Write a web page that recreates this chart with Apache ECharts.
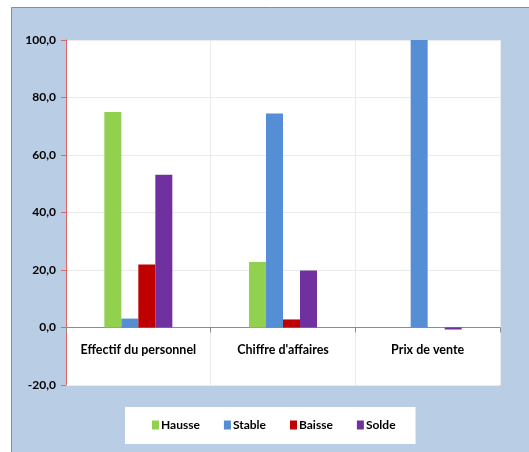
<!DOCTYPE html>
<html><head><meta charset="utf-8">
<script src="https://cdn.jsdelivr.net/npm/echarts@6/dist/echarts.min.js"></script>
<style>html,body{margin:0;padding:0;background:#fff}#c{width:529px;height:452px}</style>
</head><body><div id="c"></div>
<script>
const categories = ["Effectif du personnel", "Chiffre d'affaires", "Prix de vente"];
const seriesNames = ["Hausse", "Stable", "Baisse", "Solde"];
const hausse = [75.0, 22.8, 0.0];
const stable = [3.1, 74.4, 100.0];
const baisse = [21.9, 2.8, 0.0];
const solde = [53.1, 19.8, -0.7];
const colors = ["#92d050", "#558ed5", "#c00000", "#7030a0"];
const values = [hausse, stable, baisse, solde];
const FONT = "Lato, 'Liberation Sans', Arial, sans-serif";

const chart = echarts.init(document.getElementById('c'), null, {renderer: 'canvas'});
chart.setOption({
  backgroundColor: '#ffffff',
  animation: false,
  graphic: [{
    type: 'rect', z: -10, silent: true,
    shape: {x: 11.5, y: 7.5, width: 530, height: 460},
    style: {fill: '#b9cde5', stroke: '#8c8c8c', lineWidth: 1}
  }],
  grid: {left: 66, top: 40, right: 29, bottom: 67, show: true, backgroundColor: '#ffffff', borderWidth: 0},
  legend: {
    data: seriesNames,
    left: 125, top: 407,
    backgroundColor: '#ffffff',
    padding: [12, 20, 13, 27],
    itemGap: 24,
    itemWidth: 7, itemHeight: 9,
    icon: 'rect',
    textStyle: {fontFamily: FONT, fontWeight: 'bold', fontSize: 12, color: '#000', padding: [0, 0, 0, -3]}
  },
  xAxis: {
    type: 'category', data: categories,
    axisLine: {onZero: true, lineStyle: {color: '#8c8c8c'}},
    axisTick: {show: true, interval: 0, length: 5, lineStyle: {color: '#8c8c8c'}},
    splitLine: {show: true, interval: 0, lineStyle: {color: '#ebebeb'}},
    axisLabel: {interval: 0, fontFamily: FONT, fontWeight: 'bold', fontSize: 12.5, color: '#000', margin: -42}
  },
  yAxis: {
    type: 'value', min: -20, max: 100, interval: 20,
    axisLine: {show: true, lineStyle: {color: '#e06666'}},
    axisTick: {show: true, length: 5, lineStyle: {color: '#e06666'}},
    splitLine: {show: true, lineStyle: {color: '#ebebeb'}},
    axisLabel: {fontFamily: FONT, fontWeight: 'bold', fontSize: 12, color: '#000', margin: 10,
      formatter: v => v.toFixed(1).replace('.', ',')}
  },
  series: seriesNames.map((n, i) => ({
    name: n, type: 'bar', data: values[i], barWidth: 17, barGap: '0%',
    itemStyle: {color: colors[i]}
  }))
});
</script></body></html>
